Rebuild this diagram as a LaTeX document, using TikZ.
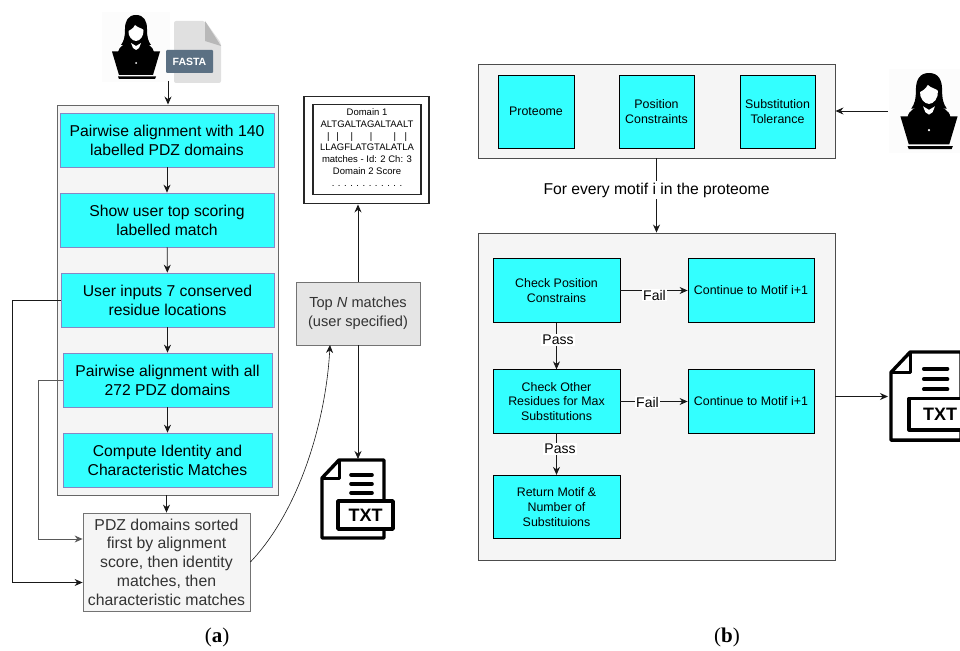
\documentclass[tikz,border=0pt]{standalone}
\usepackage{fontspec}
\setmainfont{Liberation Sans}
\newfontfamily\capfont{Liberation Serif}
\usetikzlibrary{arrows.meta}
\definecolor{cy}{HTML}{33FFFF}
\definecolor{pale}{HTML}{F5F5F5}
\definecolor{fastablue}{HTML}{5B7083}
\newcommand{\fs}[2]{\fontsize{#1}{#2}\selectfont}
\tikzset{
  x=1pt,y=-1pt,
  arr/.style={draw=black!90,line width=0.85pt,-{Stealth[length=8pt,width=7pt]}},
  outerbox/.style={draw=black!60,fill=pale,line width=0.9pt},
  boxa/.style={draw=blue!35!gray!70,fill=cy,line width=0.7pt,minimum width=#1,align=center,inner sep=0pt,minimum height=54pt,font=\fs{15.7}{19}},
  boxb/.style={draw=black,fill=cy,line width=0.8pt,minimum width=#1,align=center,inner sep=0pt,minimum height=63.5pt,font=\fs{12.4}{14.8}},
  graybox/.style={draw=black!55,fill=pale,line width=0.8pt,align=center,inner sep=0pt,text=black!80,font=\fs{15.8}{18.7}},
  lab/.style={fill=white,inner sep=1pt,font=\fs{14}{15}},
  personicon/.pic={
    \fill[black!1] (-34,-3) rectangle (34,67);
    % hair
    \fill (0,0) .. controls (-8,0) and (-11,6) .. (-11,14) .. controls (-11,22) and (-12,26) .. (-15,30) -- (15,30) .. controls (12,26) and (11,22) .. (11,14) .. controls (11,6) and (8,0) .. (0,0) -- cycle;
    % shoulders
    \fill (-18,37) .. controls (-17,31) and (-11,29) .. (-6,27) -- (6,27) .. controls (11,29) and (17,31) .. (18,37) -- cycle;
    % face
    \fill[white] (-1,10) .. controls (2,13) and (6,13) .. (7.5,15) .. controls (8,21) and (4,26) .. (0,26) .. controls (-4,26) and (-8,21) .. (-7.5,16) .. controls (-6,15) and (-3,14) .. (-1,10) -- cycle;
    \fill[white] (-5,28) -- (0,31) -- (5,28) -- (3,33) -- (0,35) -- (-3,33) -- cycle;
    % laptop
    \fill (-24,36.5) -- (24,36.5) -- (17,60) -- (-17,60) -- cycle;
    \fill (-18,61.5) -- (20,61.5) -- (19,64) -- (-17,64) -- cycle;
    \fill[white] (0,48) circle (1pt);
  },
  txticon/.pic={
    \draw[line width=3.4pt,line join=round,fill=white] (0,18) -- (17,0) -- (62,0) -- (62,78) -- (0,78) -- cycle;
    \draw[line width=3pt,line join=round] (0,18) -- (17,18) -- (17,0);
    \draw[line width=3.6pt,line cap=round] (29,15) -- (50,15) (29,24) -- (50,24) (29,33) -- (50,33);
    \draw[line width=3.4pt,line join=round,fill=white] (16,41) rectangle (71,69);
    \node[inner sep=0pt,font=\bfseries\fs{18}{18}] (#1) at (43.5,55.5) {TXT};
  },
}
\begin{document}
\begin{tikzpicture}
\useasboundingbox (0,0) rectangle (960,650);
% ---------- panel (a)
\path (136,15) pic {personicon};
\coordinate (userA) at (168,81);
\fill[black!12!white,rounded corners=2pt] (174,21) -- (205,21) -- (221,43) -- (221,83) -- (174,83) -- cycle;
\fill[black!28!white] (205,21) -- (221,46) -- (205,41) -- cycle;
\node[fill=fastablue,rounded corners=1pt,minimum width=47pt,minimum height=23pt,inner sep=0pt,text=white,font=\bfseries\fs{10.5}{12}] (fasta) at (189.5,61.5) {FASTA};

\node[outerbox,minimum width=221pt,minimum height=390pt,inner sep=0pt] (outerA) at (167.5,300) {};
\node[boxa=214pt] (b1) at (167,140) {Pairwise alignment with 140\\labelled PDZ domains};
\node[boxa=214pt] (b2) at (167,220) {Show user top scoring\\labelled match};
\node[boxa=213pt] (b3) at (167.5,300) {User inputs 7 conserved\\residue locations};
\node[boxa=209pt] (b4) at (167.5,380) {Pairwise alignment with all\\272 PDZ domains};
\node[boxa=209pt] (b5) at (167.5,460) {Compute Identity and\\Characteristic Matches};
\node[graybox,minimum width=167pt,minimum height=98pt] (sorted) at (166.5,562) {PDZ domains sorted\\first by alignment\\score, then identity\\matches, then\\characteristic matches};
\node[graybox,minimum width=124pt,minimum height=63pt,fill=black!10,font=\fs{14.6}{18.7}] (top) at (358,313.5) {Top \textit{N} matches\\(user specified)};

\node[draw=black!85,line width=1.9pt,minimum width=125pt,minimum height=107pt,inner sep=0pt] (outp) at (366.5,150) {};
\node[draw=black!85,line width=1.9pt,minimum width=108pt,minimum height=90pt,inner sep=0pt] (outi) at (367,149.5) {};
\node[align=center,inner sep=0pt,font=\fs{9.5}{11.8}] (dom) at (367,147.5) {Domain 1\\ALTGALTAGALTAALT\\|\hspace{7pt}|\hspace{11.7pt}|\hspace{16.7pt}|\hspace{21.4pt}|\hspace{8.4pt}|\\LLAGFLATGTALATLA\\matches - Id: 2 Ch: 3\\Domain 2 Score\\. . . . . . . . . . . .};

\path (322,460) pic {txticon=txtA};
\coordinate (txtAtop) at (358,459);

\draw[arr] (userA) -- (outerA.north -| userA);
\draw[arr] (b1) -- (b2);
\draw[arr] (b2) -- (b3);
\draw[arr] (b3) -- (b4);
\draw[arr] (b4) -- (b5);
\draw[arr] (outerA.south -| sorted) -- (sorted.north);
\draw[arr] (b3.west) -- (12,300) -- (12,582.5) -- (sorted.west |- 0,582.5);
\draw[arr,draw=black!65] (b4.west) -- (38.5,380) -- (38.5,539) -- (sorted.west |- 0,539);
\coordinate (topin) at (330,345);
\draw[arr,line width=0.6pt] (sorted.east) .. controls (300,510) and (326,420) .. (topin);
\draw[arr] (top.north) -- (outp.south -| top);
\draw[arr] (top.south) -- (txtAtop);

\node[font=\capfont\fs{21}{22},inner sep=0pt] (capa) at (217,637) {(\textbf{a})};

% ---------- panel (b)
\node[outerbox,draw=black!70,minimum width=357pt,minimum height=94pt,inner sep=0pt] (outerB) at (656.5,111) {};
\node[boxb=76pt,minimum height=73pt] (prot) at (536,111.5) {Proteome};
\node[boxb=75pt,minimum height=73pt] (pos) at (656.5,111.5) {Position\\Constraints};
\node[boxb=75pt,minimum height=73pt] (sub) at (777.5,111.5) {Substitution\\Tolerance};
\path (929,73) pic[scale=1.19] {personicon};
\coordinate (userB) at (888,111);
\draw[arr] (userB) -- (outerB.east |- userB);

\node[outerbox,draw=black!70,minimum width=357pt,minimum height=327pt,inner sep=0pt] (outerC) at (656.5,396.5) {};
\draw[arr] (outerB.south) -- (outerC.north) node[pos=0.43,fill=white,inner sep=1.5pt,font=\fs{15.7}{17}] (every) {For every motif i in the proteome};

\node[boxb=127pt] (c1) at (556.5,290.5) {Check Position\\Constrains};
\node[boxb=126pt] (f1) at (751,290.5) {Continue to Motif i+1};
\node[boxb=127pt] (c2) at (556.5,401.5) {Check Other\\Residues for Max\\Substitutions};
\node[boxb=126pt] (f2) at (751,401.5) {Continue to Motif i+1};
\node[boxb=127pt] (c3) at (556.5,507) {Return Motif \&\\Number of\\Substituions};

\draw[arr] (c1) -- (f1);
\draw[arr] (c2) -- (f2);
\draw[arr] (c1) -- (c2);
\draw[arr] (c2) -- (c3);
\node[lab] (fail1) at (654.5,295) {Fail};
\node[lab] (fail2) at (647.5,402) {Fail};
\node[lab] (pass1) at (558,340) {Pass};
\node[lab] (pass2) at (560,449) {Pass};

\path (891,352) pic[scale=1.13] {txticon=txtB};
\coordinate (txtBin) at (888,396.5);
\draw[arr] (outerC.east |- txtBin) -- (txtBin);

\node[font=\capfont\fs{21}{22},inner sep=0pt] (capb) at (727,637) {(\textbf{b})};
\end{tikzpicture}
\end{document}
